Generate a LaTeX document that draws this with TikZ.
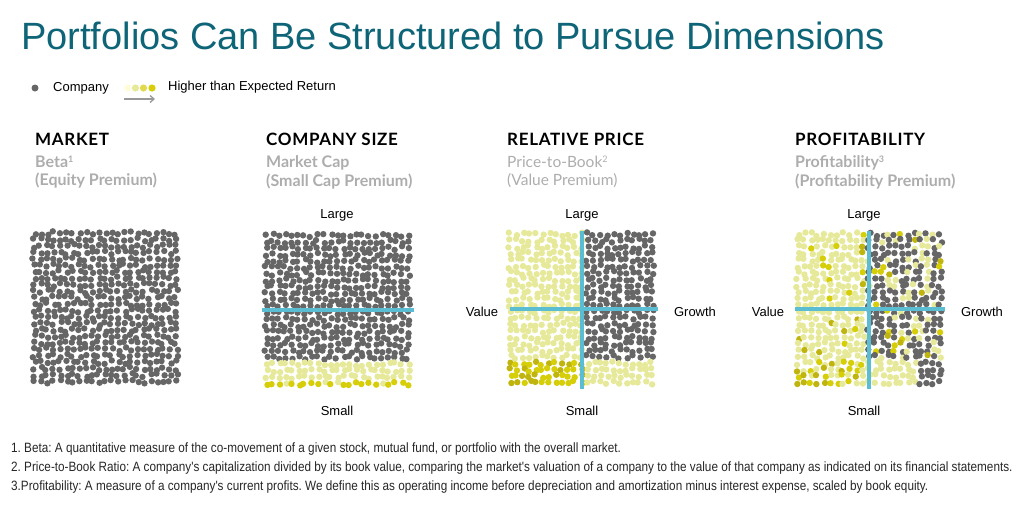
\documentclass[tikz,border=0pt]{standalone}
\usepackage{fontspec}
\setmainfont{Liberation Sans}
\newfontfamily\headfont[LetterSpace=4]{Lato}
\newfontfamily\subfont{Lato}
\newfontfamily\notefont[FakeStretch=0.87]{Liberation Sans}
\usetikzlibrary{arrows.meta,positioning}
\frenchspacing

\definecolor{titleteal}{HTML}{0E6577}
\definecolor{dotgrey}{HTML}{666666}
\definecolor{dotlight}{HTML}{E6E999}
\definecolor{dotdeep}{HTML}{D6CE08}
\definecolor{dotolive}{HTML}{BFB50E}
\definecolor{subgrey}{HTML}{ADADAD}
\definecolor{axisblue}{HTML}{5BBDD2}

\newcommand\supnum[1]{\raisebox{0.62ex}{\fontsize{9}{9}\selectfont#1}}

\tikzset{
  axis/.style={axisblue,line width=3.6pt},
  head/.style={anchor=west,inner sep=0pt,font=\headfont\bfseries\fontsize{17}{17}\selectfont},
  sub/.style={anchor=north west,inner sep=0pt,align=left,text=subgrey,font=\subfont\bfseries\fontsize{16}{18.5}\selectfont},
  lbl/.style={inner sep=0pt,font=\fontsize{13}{13}\selectfont},
  note/.style={anchor=west,inner sep=0pt,text=black!85,font=\notefont\fontsize{13.5}{14}\selectfont}
}

% dot field: left, top, colour rule (0 grey, 1 light, 2 deep, 3 olive)
\newcommand\dotfield[3]{%
  \foreach \i in {0,...,22}{
    \foreach \j in {0,...,23}{
      \pgfmathsetmacro\px{#1+3.2+\i*6.45+rand*1.9}
      \pgfmathsetmacro\py{#2+3.2+\j*6.45+rand*1.9}
      \pgfmathsetmacro\r{rnd}
      \pgfmathsetmacro\s{rnd}
      \pgfmathtruncatemacro\c{#3}
      \ifcase\c\def\dc{dotgrey}\or\def\dc{dotlight}\or\def\dc{dotdeep}\else\def\dc{dotolive}\fi
      \fill[\dc] (\px,\py) circle[radius=3.2pt];
    }}}

\begin{document}
\begin{tikzpicture}[x=1pt,y=-1pt]
\useasboundingbox (0,0) rectangle (1024,504);
\pgfmathsetseed{4217}

% title
\node[anchor=west,inner sep=0pt,text=titleteal,font=\fontsize{38}{42}\selectfont] (title) at (21,36) {Portfolios Can Be Structured to Pursue Dimensions};

% legend
\fill[dotgrey] (35,88) circle[radius=3.5pt];
\node[anchor=west,inner sep=0pt,font=\fontsize{13}{13}\selectfont] (company) at (53,88) {Company};
\fill[yellow!15!white] (128,88) circle[radius=3.6pt];
\fill[dotlight] (135.5,88) circle[radius=3.6pt];
\fill[yellow!60!dotlight!90!black] (143.5,88) circle[radius=3.6pt];
\fill[dotdeep] (152,88) circle[radius=3.6pt];
\coordinate (arrA) at (124,99);
\coordinate (arrB) at (155,99);
\draw[black!40,line width=1.3pt,-{Straight Barb[length=4pt,width=7pt]}] (arrA) -- (arrB);
\node[anchor=west,inner sep=0pt,font=\fontsize{13}{13}\selectfont] (higher) at (168,87) {Higher than Expected Return};

% headings
\node[head] (hmarket) at (35,139) {MARKET};
\node[sub] (smarket) at (35,155.5) {Beta\supnum{1}\\(Equity Premium)};
\node[head] (hsize) at (266,139) {COMPANY SIZE};
\node[sub] (ssize) at (266,155.5) {Market Cap\\(Small Cap Premium)};
\node[head] (hprice) at (507,139) {RELATIVE PRICE};
\node[sub,font=\subfont\fontsize{15.5}{18.5}\selectfont] (sprice) at (507,155.5) {Price-to-Book\supnum{2}\\(Value Premium)};
\node[head] (hprof) at (795,139) {PROFITABILITY};
\node[sub] (sprof) at (795,155.5) {Profitability\supnum{3}\\(Profitability Premium)};

% market
\dotfield{31}{230}{0}

% company size
\dotfield{263}{232}{(\j==23)?((\r<0.85)?2:1):((\j>=20)?1:0)}
\coordinate (sizeL) at (262,310);
\coordinate (sizeR) at (414,310);
\draw[axis] (sizeL) -- (sizeR);
\node[lbl] (sizeLarge) at (337,215) {Large};
\node[lbl] (sizeSmall) at (337,411) {Small};

% relative price
\dotfield{507}{231}{(\i<=11)?((\j>=20)?((\s<0.55)?2:3):1):((\j>=20)?1:0)}
\coordinate (priceT) at (582,231);
\coordinate (priceB) at (582,389);
\coordinate (priceL) at (510,309);
\coordinate (priceR) at (658,309);
\draw[axis] (priceT) -- (priceB);
\draw[axis] (priceL) -- (priceR);
\node[lbl] (priceLarge) at (582,215) {Large};
\node[lbl] (priceSmall) at (582,411) {Small};
\node[lbl] (priceValue) at (482,312) {Value};
\node[lbl] (priceGrowth) at (695,312) {Growth};

% profitability
\dotfield{795}{231}{(\i<=10)?((\j>=20)?((\r<0.6)?((\s<0.5)?2:3):1):((\r<0.12)?((\s<0.5)?2:3):1)):((\j>=20)?((\i<=18)?((\r<0.12)?3:1):0):(((\j<=2)&&(\i>=19))?((\r<0.7)?1:0):((\r<0.7)?0:((\r<0.92)?1:((\s<0.5)?2:3)))))}
\coordinate (profT) at (869,231);
\coordinate (profB) at (869,389);
\coordinate (profL) at (795,309);
\coordinate (profR) at (945,309);
\draw[axis] (profT) -- (profB);
\draw[axis] (profL) -- (profR);
\node[lbl] (profLarge) at (864,215) {Large};
\node[lbl] (profSmall) at (864,411) {Small};
\node[lbl] (profValue) at (768,312) {Value};
\node[lbl] (profGrowth) at (982,312) {Growth};

% footnotes
\node[note] (note1) at (11,449) {1. Beta: A quantitative measure of the co-movement of a given stock, mutual fund, or portfolio with the overall market.};
\node[note] (note2) at (11,467.5) {2. Price-to-Book Ratio: A company's capitalization divided by its book value, comparing the market's valuation of a company to the value of that company as indicated on its financial statements.};
\node[note] (note3) at (11,486.5) {3.Profitability: A measure of a company's current profits. We define this as operating income before depreciation and amortization minus interest expense, scaled by book equity.};
\end{tikzpicture}
\end{document}
